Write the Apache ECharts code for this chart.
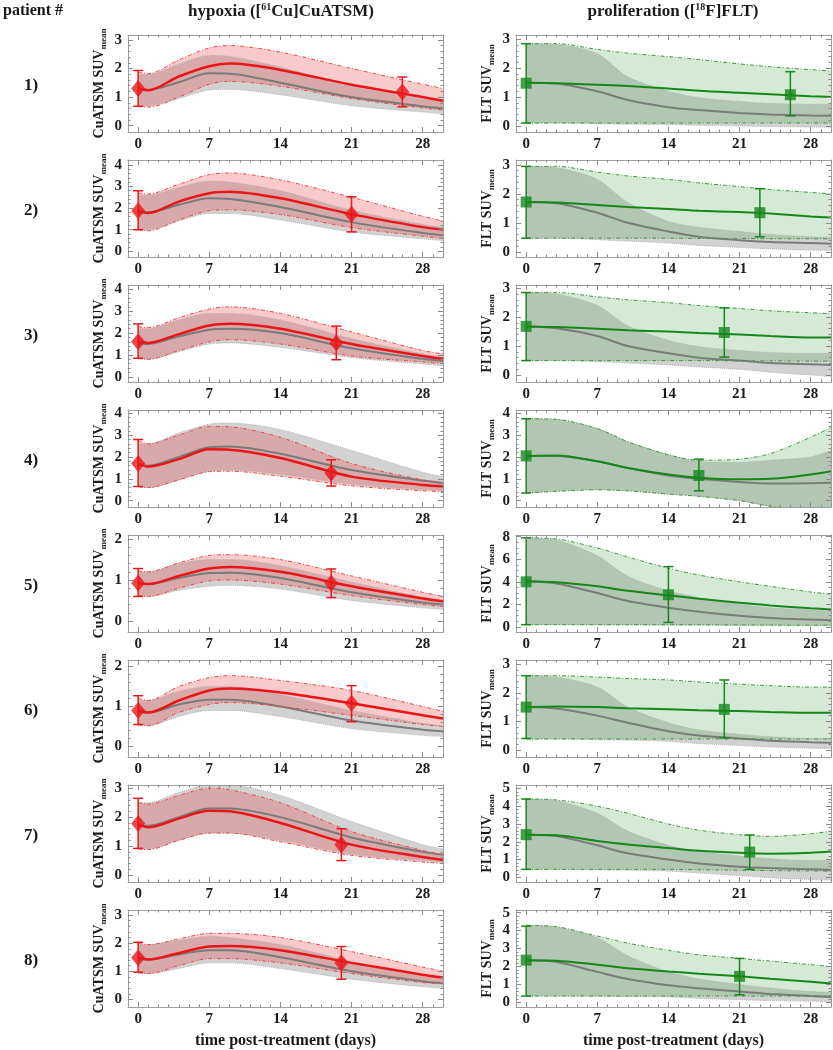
<!DOCTYPE html>
<html>
<head>
<meta charset="utf-8">
<script src="https://cdn.jsdelivr.net/npm/echarts@6/dist/echarts.min.js"></script>
<style>
html,body{margin:0;padding:0;background:#fff;}
#chart{width:833px;height:1050px;}
</style>
</head>
<body>
<div id="chart"></div>
<script>
// ---------------- DATA ----------------
const TH = [0, 1, 4, 7, 9, 14, 21, 28, 30];                 // hypoxia time grid (days)
const TP = [0, 3, 7, 10, 14, 17, 21, 24, 28, 30];           // proliferation time grid (days)
const X_TICKS = [0, 7, 14, 21, 28];
const PATIENTS = ['1)', '2)', '3)', '4)', '5)', '6)', '7)', '8)'];

const HYP_Y_TICKS = [[0,1,2,3],[0,1,2,3,4],[0,1,2,3,4],[0,1,2,3,4],[0,1,2],[0,1,2],[0,1,2,3],[0,1,2,3]];
const HYP_Y_MIN = [-0.22, -0.26, -0.24, -0.29, -0.27, -0.26, -0.24, -0.27];
const HYP_Y_MAX = [3.17, 4.22, 4.2, 4.15, 2.1, 2.16, 3.11, 3.18];
const PRO_Y_TICKS = [[0,1,2,3],[0,1,2,3],[0,1,2,3],[0,1,2,3,4],[0,2,4,6,8],[0,1,2,3],[0,1,2,3,4,5],[0,1,2,3,4,5]];
const PRO_Y_MIN = [-0.21, -0.18, -0.24, -0.29, -0.45, -0.25, -0.26, -0.26];
const PRO_Y_MAX = [3.15, 3.17, 3.11, 4.15, 8.15, 3.15, 5.19, 5.15];

// hypoxia ([61Cu]CuATSM), patient-specific (red) and population (gray)
const hypRedMid = [
  [1.3, 1.24, 1.72, 2.08, 2.17, 1.95, 1.43, 1.0, 0.87],
  [1.88, 1.77, 2.3, 2.68, 2.75, 2.45, 1.72, 1.12, 1.0],
  [1.6, 1.55, 1.95, 2.35, 2.43, 2.2, 1.5, 0.95, 0.82],
  [1.7, 1.56, 1.9, 2.35, 2.33, 1.95, 1.1, 0.72, 0.65],
  [0.93, 0.9, 1.1, 1.28, 1.32, 1.2, 0.85, 0.55, 0.48],
  [0.9, 0.85, 1.15, 1.4, 1.45, 1.35, 1.08, 0.78, 0.7],
  [1.75, 1.65, 1.95, 2.22, 2.2, 1.8, 1.05, 0.62, 0.52],
  [1.48, 1.42, 1.65, 1.88, 1.9, 1.75, 1.3, 0.88, 0.78]
];
const hypRedHi = [
  [1.87, 1.82, 2.3, 2.72, 2.8, 2.57, 2.0, 1.45, 1.3],
  [2.7, 2.65, 3.1, 3.55, 3.62, 3.3, 2.5, 1.62, 1.4],
  [2.3, 2.25, 2.7, 3.1, 3.2, 2.9, 2.05, 1.2, 1.05],
  [2.75, 2.6, 3.0, 3.4, 3.38, 2.9, 1.7, 0.95, 0.85],
  [1.22, 1.2, 1.42, 1.6, 1.62, 1.5, 1.1, 0.7, 0.6],
  [1.2, 1.15, 1.5, 1.72, 1.77, 1.65, 1.4, 1.0, 0.88],
  [2.5, 2.45, 2.75, 3.0, 2.95, 2.5, 1.5, 0.85, 0.7],
  [2.0, 1.95, 2.15, 2.35, 2.35, 2.2, 1.7, 1.15, 1.0]
];
const hypRedLo = [
  [0.67, 0.65, 1.0, 1.45, 1.55, 1.38, 0.95, 0.62, 0.55],
  [1.0, 0.95, 1.45, 1.88, 1.92, 1.7, 1.1, 0.7, 0.6],
  [0.85, 0.8, 1.2, 1.6, 1.7, 1.5, 0.95, 0.68, 0.6],
  [0.65, 0.6, 0.95, 1.33, 1.35, 1.12, 0.68, 0.45, 0.42],
  [0.62, 0.6, 0.8, 0.98, 1.0, 0.9, 0.62, 0.4, 0.35],
  [0.55, 0.52, 0.85, 1.05, 1.1, 1.0, 0.78, 0.55, 0.5],
  [0.9, 0.88, 1.2, 1.45, 1.45, 1.15, 0.68, 0.45, 0.4],
  [0.95, 0.92, 1.2, 1.45, 1.45, 1.3, 0.92, 0.6, 0.55]
];
const hypGrayMid = [
  [1.28, 1.25, 1.52, 1.83, 1.82, 1.5, 1.0, 0.68, 0.6],
  [1.8, 1.8, 2.15, 2.45, 2.42, 2.05, 1.35, 0.85, 0.75],
  [1.5, 1.5, 1.85, 2.15, 2.2, 2.0, 1.3, 0.82, 0.72],
  [1.65, 1.6, 2.0, 2.45, 2.48, 2.15, 1.4, 0.92, 0.8],
  [0.9, 0.9, 1.05, 1.17, 1.18, 1.05, 0.7, 0.45, 0.4],
  [0.85, 0.85, 1.05, 1.17, 1.17, 1.0, 0.65, 0.42, 0.38],
  [1.7, 1.7, 2.0, 2.3, 2.3, 2.0, 1.3, 0.8, 0.7],
  [1.42, 1.42, 1.6, 1.75, 1.75, 1.5, 1.0, 0.65, 0.58]
];
const hypGrayHi = [
  [1.8, 1.8, 2.15, 2.45, 2.42, 2.05, 1.38, 0.95, 0.85],
  [2.6, 2.6, 2.95, 3.25, 3.2, 2.8, 1.9, 1.25, 1.1],
  [2.2, 2.2, 2.6, 2.9, 2.9, 2.6, 1.75, 1.05, 0.9],
  [2.6, 2.6, 3.1, 3.5, 3.55, 3.25, 2.3, 1.3, 1.1],
  [1.2, 1.2, 1.4, 1.5, 1.5, 1.35, 0.95, 0.58, 0.5],
  [1.15, 1.15, 1.38, 1.5, 1.5, 1.3, 0.9, 0.58, 0.52],
  [2.5, 2.5, 2.85, 3.1, 3.1, 2.75, 1.85, 1.05, 0.9],
  [1.95, 1.95, 2.1, 2.25, 2.2, 1.95, 1.35, 0.85, 0.75]
];
const hypGrayLo = [
  [0.7, 0.7, 0.95, 1.25, 1.27, 1.08, 0.7, 0.48, 0.42],
  [1.0, 1.0, 1.4, 1.75, 1.75, 1.45, 0.9, 0.58, 0.5],
  [0.8, 0.8, 1.15, 1.5, 1.55, 1.35, 0.88, 0.58, 0.5],
  [0.6, 0.6, 0.95, 1.35, 1.4, 1.2, 0.75, 0.5, 0.45],
  [0.6, 0.6, 0.75, 0.85, 0.87, 0.78, 0.5, 0.32, 0.28],
  [0.52, 0.52, 0.75, 0.9, 0.9, 0.75, 0.45, 0.28, 0.25],
  [0.9, 0.9, 1.2, 1.45, 1.45, 1.2, 0.72, 0.5, 0.45],
  [0.92, 0.92, 1.1, 1.3, 1.3, 1.1, 0.72, 0.45, 0.4]
];
// measured points: [day, value, errLow, errHigh]
const hypPoints = [
  [[0, 1.3, 0.68, 1.93], [26, 1.18, 0.66, 1.7]],
  [[0, 1.88, 1.0, 2.8], [21, 1.72, 0.9, 2.52]],
  [[0, 1.6, 0.85, 2.42], [19.5, 1.55, 0.78, 2.32]],
  [[0, 1.7, 0.65, 2.8], [19, 1.27, 0.67, 1.87]],
  [[0, 0.93, 0.6, 1.28], [19, 0.92, 0.57, 1.27]],
  [[0, 0.9, 0.55, 1.27], [21, 1.08, 0.62, 1.52]],
  [[0, 1.78, 0.92, 2.65], [20, 1.05, 0.5, 1.6]],
  [[0, 1.48, 0.97, 2.03], [20, 1.3, 0.72, 1.88]]
];

// proliferation ([18F]FLT), patient-specific (green) and population (gray)
const proGreenMid = [
  [1.5, 1.48, 1.43, 1.38, 1.3, 1.22, 1.15, 1.1, 1.03, 1.0],
  [1.72, 1.7, 1.62, 1.55, 1.48, 1.42, 1.37, 1.32, 1.22, 1.18],
  [1.68, 1.66, 1.6, 1.55, 1.5, 1.45, 1.4, 1.35, 1.3, 1.3],
  [2.05, 2.07, 1.8, 1.5, 1.2, 1.05, 0.98, 1.0, 1.2, 1.35],
  [4.05, 3.95, 3.6, 3.2, 2.8, 2.5, 2.15, 1.9, 1.65, 1.55],
  [1.5, 1.52, 1.5, 1.46, 1.42, 1.39, 1.36, 1.33, 1.3, 1.3],
  [2.4, 2.37, 2.05, 1.85, 1.65, 1.5, 1.38, 1.33, 1.38, 1.45],
  [2.35, 2.32, 2.1, 1.9, 1.72, 1.6, 1.45, 1.32, 1.15, 1.05]
];
const proGreenHi = [
  [2.85, 2.85, 2.65, 2.52, 2.4, 2.3, 2.15, 2.05, 1.95, 1.9],
  [2.95, 2.95, 2.75, 2.62, 2.5, 2.38, 2.25, 2.15, 2.05, 2.0],
  [2.85, 2.85, 2.7, 2.6, 2.5, 2.4, 2.3, 2.22, 2.15, 2.12],
  [3.75, 3.72, 3.3, 2.7, 2.1, 1.85, 1.9, 2.15, 2.9, 3.35],
  [7.9, 7.8, 7.0, 6.2, 5.2, 4.6, 4.0, 3.6, 3.1, 2.9],
  [2.6, 2.6, 2.55, 2.5, 2.45, 2.38, 2.3, 2.25, 2.2, 2.2],
  [4.4, 4.35, 4.0, 3.6, 3.0, 2.65, 2.4, 2.3, 2.45, 2.6],
  [4.3, 4.22, 3.7, 3.3, 2.9, 2.65, 2.45, 2.3, 2.1, 2.0]
];
const proGreenLo = [
  [0.1, 0.1, 0.1, 0.1, 0.1, 0.1, 0.1, 0.1, 0.1, 0.1],
  [0.47, 0.47, 0.47, 0.47, 0.47, 0.46, 0.46, 0.45, 0.45, 0.45],
  [0.5, 0.5, 0.5, 0.5, 0.5, 0.5, 0.49, 0.49, 0.48, 0.48],
  [0.35, 0.43, 0.5, 0.45, 0.3, 0.2, 0.0, -0.25, -0.45, -0.55],
  [0.2, 0.2, 0.2, 0.2, 0.2, 0.2, 0.18, 0.17, 0.15, 0.15],
  [0.38, 0.38, 0.38, 0.38, 0.38, 0.38, 0.38, 0.38, 0.38, 0.38],
  [0.45, 0.45, 0.45, 0.45, 0.45, 0.43, 0.4, 0.38, 0.36, 0.35],
  [0.35, 0.35, 0.35, 0.35, 0.35, 0.35, 0.35, 0.35, 0.35, 0.35]
];
const proGrayMid = [
  [1.5, 1.47, 1.2, 0.9, 0.65, 0.55, 0.45, 0.4, 0.36, 0.35],
  [1.72, 1.68, 1.35, 1.0, 0.7, 0.52, 0.4, 0.34, 0.3, 0.28],
  [1.68, 1.62, 1.35, 1.0, 0.75, 0.6, 0.5, 0.42, 0.37, 0.35],
  [2.05, 2.05, 1.8, 1.5, 1.15, 1.0, 0.85, 0.78, 0.8, 0.82],
  [4.05, 3.85, 3.0, 2.3, 1.7, 1.35, 1.0, 0.8, 0.65, 0.6],
  [1.5, 1.45, 1.2, 0.95, 0.65, 0.5, 0.4, 0.32, 0.27, 0.25],
  [2.4, 2.32, 1.8, 1.35, 1.0, 0.78, 0.6, 0.52, 0.45, 0.42],
  [2.35, 2.25, 1.7, 1.3, 0.95, 0.78, 0.6, 0.47, 0.35, 0.3]
];
const proGrayHi = [
  [2.85, 2.82, 2.5, 1.7, 1.2, 0.98, 0.85, 0.78, 0.75, 0.75],
  [2.95, 2.9, 2.5, 1.7, 1.05, 0.85, 0.7, 0.6, 0.52, 0.5],
  [2.85, 2.8, 2.4, 1.7, 1.2, 0.98, 0.85, 0.78, 0.75, 0.75],
  [3.75, 3.72, 3.3, 2.7, 2.1, 1.8, 1.75, 1.85, 2.0, 2.3],
  [7.9, 7.7, 6.3, 4.5, 3.2, 2.6, 2.0, 1.7, 1.5, 1.4],
  [2.6, 2.55, 2.2, 1.5, 0.95, 0.7, 0.55, 0.46, 0.4, 0.4],
  [4.4, 4.3, 3.6, 2.6, 1.8, 1.45, 1.2, 1.05, 0.95, 0.95],
  [4.3, 4.2, 3.6, 2.6, 1.7, 1.3, 1.0, 0.8, 0.6, 0.55]
];
const proGrayLo = [
  [0.1, 0.1, 0.08, 0.06, 0.05, 0.02, 0.0, -0.02, -0.04, -0.05],
  [0.47, 0.47, 0.42, 0.37, 0.3, 0.22, 0.15, 0.1, 0.06, 0.05],
  [0.5, 0.5, 0.46, 0.42, 0.35, 0.28, 0.2, 0.1, 0.0, -0.05],
  [0.35, 0.43, 0.5, 0.45, 0.3, 0.2, 0.0, -0.25, -0.45, -0.55],
  [0.2, 0.2, 0.18, 0.17, 0.15, 0.14, 0.12, 0.11, 0.1, 0.1],
  [0.38, 0.38, 0.36, 0.34, 0.3, 0.22, 0.15, 0.1, 0.06, 0.05],
  [0.45, 0.45, 0.42, 0.4, 0.35, 0.25, 0.1, -0.02, -0.12, -0.15],
  [0.35, 0.35, 0.34, 0.32, 0.3, 0.22, 0.15, 0.1, 0.06, 0.05]
];
const proPoints = [
  [[0, 1.48, 0.1, 2.85], [26, 1.08, 0.35, 1.88]],
  [[0, 1.72, 0.47, 2.95], [23, 1.35, 0.52, 2.18]],
  [[0, 1.68, 0.5, 2.85], [19.5, 1.47, 0.62, 2.32]],
  [[0, 2.05, 0.35, 3.75], [17, 1.15, 0.45, 1.9]],
  [[0, 4.0, 0.2, 7.9], [14, 2.85, 0.4, 5.35]],
  [[0, 1.5, 0.4, 2.6], [19.5, 1.42, 0.42, 2.45]],
  [[0, 2.4, 0.45, 4.4], [22, 1.42, 0.45, 2.38]],
  [[0, 2.35, 0.35, 4.25], [21, 1.45, 0.42, 2.45]]
];

// ---------------- STYLE ----------------
const FONT = '"Liberation Serif", "Times New Roman", serif';
const FRAME = '#9e9e9e';
const TICKC = '#8a8a8a';
const RED = '#e8161b';
const GREEN = '#17861b';
const GRAY_LINE = '#7b7b7b';
const GRAY_FILL = '#d2d2d2';
const RED_FILL = 'rgba(232,60,60,0.27)';
const GREEN_FILL = 'rgba(60,160,60,0.22)';
const SM = 0.3;

const DAYS = [];
for (let d = 0; d <= 30; d++) DAYS.push(d);
function minorY(ticks) {
  const step = ticks[1] - ticks[0];
  const sub = step === 1 ? 0.2 : 0.5;
  const top = ticks[ticks.length - 1];
  const out = [];
  for (let v = 0; v <= top + 1e-9; v += sub) out.push(Math.round(v * 100) / 100);
  return out;
}

const option = {
  animation: false,
  backgroundColor: '#ffffff',
  grid: [], xAxis: [], yAxis: [], series: [], graphic: []
};

function makeErr(p, pts, color) {
  return {
    type: 'custom', xAxisIndex: 4 * p, yAxisIndex: 4 * p, z: 4, silent: true,
    data: pts,
    encode: { x: 0, y: [2, 3] },
    renderItem: function (params, api) {
      const x = api.value(0), lo = api.value(2), hi = api.value(3);
      const a = api.coord([x, lo]), b = api.coord([x, hi]);
      const w = 5;
      const st = { stroke: color, lineWidth: 1.5 };
      return {
        type: 'group', children: [
          { type: 'line', shape: { x1: a[0], y1: a[1], x2: b[0], y2: b[1] }, style: st },
          { type: 'line', shape: { x1: a[0] - w, y1: a[1], x2: a[0] + w, y2: a[1] }, style: st },
          { type: 'line', shape: { x1: b[0] - w, y1: b[1], x2: b[0] + w, y2: b[1] }, style: st }
        ]
      };
    }
  };
}

// band = stacked pair of line series; value column first so the y dimension is the stacked one
function bandSeries(p, T, lo, hi, stackId, edgeColor, edgeType, fill) {
  const common = { type: 'line', xAxisIndex: 4 * p, yAxisIndex: 4 * p, stack: stackId, stackStrategy: 'all',
    smooth: SM, symbol: 'none', silent: true, encode: { x: 1, y: 0 } };
  return [
    Object.assign({}, common, { data: T.map((t, i) => [lo[i], t]),
      lineStyle: { color: edgeColor, width: 1, type: edgeType } }),
    Object.assign({}, common, { data: T.map((t, i) => [+(hi[i] - lo[i]).toFixed(4), t]),
      areaStyle: { color: fill, opacity: 1 },
      lineStyle: { color: edgeColor, width: 1, type: edgeType } })
  ];
}

for (let r = 0; r < 8; r++) {
  for (let c = 0; c < 2; c++) {
    const p = r * 2 + c;
    const top = 35 + 125 * r;
    const left = c === 0 ? 128 : 516;
    const W = 315, H = 97;
    const yt = c === 0 ? HYP_Y_TICKS[r] : PRO_Y_TICKS[r];
    const ymin = c === 0 ? HYP_Y_MIN[r] : PRO_Y_MIN[r];
    const ymax = c === 0 ? HYP_Y_MAX[r] : PRO_Y_MAX[r];

    option.grid.push({ left: left, top: top, width: W, height: H, show: false, containLabel: false, outerBoundsMode: 'none' });
    option.grid.push({ left: left, top: top, width: W, height: H, show: false, containLabel: false, outerBoundsMode: 'none' });

    const lineOn = { show: true, onZero: false, lineStyle: { color: FRAME, width: 1 } };
    const lineOff = { show: false, onZero: false };
    const majT = (vals) => ({ show: true, inside: true, length: 5, customValues: vals, lineStyle: { color: TICKC, width: 1 } });
    const minT = (vals) => ({ show: true, inside: true, length: 2.5, customValues: vals, lineStyle: { color: TICKC, width: 1 } });
    const xb = { type: 'value', min: -1, max: 30, z: 10, splitLine: { show: false } };
    const yb = { type: 'value', min: ymin, max: ymax, z: 10, splitLine: { show: false } };

    const xMain = Object.assign({}, xb, {
      gridIndex: 2 * p, position: 'bottom', axisLine: lineOn, axisTick: majT(X_TICKS),
      axisLabel: { show: true, customValues: X_TICKS, fontFamily: FONT, fontWeight: 'bold', fontSize: 15, color: '#1a1a1a', margin: 5 }
    });
    if (r === 7) {
      xMain.name = 'time post-treatment (days)';
      xMain.nameLocation = 'middle';
      xMain.nameGap = 26;
      xMain.nameTextStyle = { fontFamily: FONT, fontWeight: 'bold', fontSize: 16, color: '#1a1a1a' };
    }
    option.xAxis.push(xMain);
    option.xAxis.push(Object.assign({}, xb, { gridIndex: 2 * p, position: 'top', axisLine: lineOn, axisTick: majT(X_TICKS), axisLabel: { show: false } }));
    option.xAxis.push(Object.assign({}, xb, { gridIndex: 2 * p + 1, position: 'bottom', axisLine: lineOff, axisTick: minT(DAYS), axisLabel: { show: false } }));
    option.xAxis.push(Object.assign({}, xb, { gridIndex: 2 * p + 1, position: 'top', axisLine: lineOff, axisTick: minT(DAYS), axisLabel: { show: false } }));

    const nm = c === 0 ? 'CuATSM SUV' : 'FLT SUV';
    option.yAxis.push(Object.assign({}, yb, {
      gridIndex: 2 * p, position: 'left', axisLine: lineOn, axisTick: majT(yt),
      axisLabel: { show: true, customValues: yt, fontFamily: FONT, fontWeight: 'bold', fontSize: 15, color: '#1a1a1a', margin: 6 },
      name: '{a|' + nm + '}{b|mean}', nameLocation: 'middle', nameGap: 20,
      nameTextStyle: {
        rich: {
          a: { fontFamily: FONT, fontWeight: 'bold', fontSize: 14, color: '#1a1a1a', lineHeight: 18, verticalAlign: 'middle' },
          b: { fontFamily: FONT, fontWeight: 'bold', fontSize: 9, color: '#1a1a1a', lineHeight: 9, verticalAlign: 'bottom' }
        }
      }
    }));
    option.yAxis.push(Object.assign({}, yb, { gridIndex: 2 * p, position: 'right', axisLine: lineOn, axisTick: majT(yt), axisLabel: { show: false } }));
    option.yAxis.push(Object.assign({}, yb, { gridIndex: 2 * p + 1, position: 'left', axisLine: lineOff, axisTick: minT(minorY(yt)), axisLabel: { show: false } }));
    option.yAxis.push(Object.assign({}, yb, { gridIndex: 2 * p + 1, position: 'right', axisLine: lineOff, axisTick: minT(minorY(yt)), axisLabel: { show: false } }));

    const T = c === 0 ? TH : TP;
    const gLo = c === 0 ? hypGrayLo[r] : proGrayLo[r];
    const gHi = c === 0 ? hypGrayHi[r] : proGrayHi[r];
    const gMid = c === 0 ? hypGrayMid[r] : proGrayMid[r];
    const cLo = c === 0 ? hypRedLo[r] : proGreenLo[r];
    const cHi = c === 0 ? hypRedHi[r] : proGreenHi[r];
    const cMid = c === 0 ? hypRedMid[r] : proGreenMid[r];
    const pts = c === 0 ? hypPoints[r] : proPoints[r];
    const col = c === 0 ? RED : GREEN;
    const edge = c === 0 ? '#ea4a4a' : '#3f9b3f';
    const fill = c === 0 ? RED_FILL : GREEN_FILL;

    bandSeries(p, T, gLo, gHi, 'g' + p, '#b4b4b4', 'dotted', GRAY_FILL).forEach(s => option.series.push(s));
    option.series.push({ type: 'line', xAxisIndex: 4 * p, yAxisIndex: 4 * p, smooth: SM, symbol: 'none', silent: true,
      data: T.map((t, i) => [t, gMid[i]]), lineStyle: { color: GRAY_LINE, width: 2 } });
    bandSeries(p, T, cLo, cHi, 'c' + p, edge, [4, 2, 1, 2], fill).forEach(s => option.series.push(s));
    option.series.push({ type: 'line', xAxisIndex: 4 * p, yAxisIndex: 4 * p, smooth: SM, symbol: 'none', silent: true,
      data: T.map((t, i) => [t, cMid[i]]), lineStyle: { color: col, width: c === 0 ? 2.5 : 2 } });
    option.series.push(makeErr(p, pts, col));
    option.series.push({ type: 'scatter', xAxisIndex: 4 * p, yAxisIndex: 4 * p, z: 5, silent: true,
      symbol: c === 0 ? 'diamond' : 'rect', symbolSize: c === 0 ? [14, 17] : 11,
      itemStyle: { color: col }, data: pts.map(d => [d[0], d[1]]) });
  }
  option.graphic.push({ type: 'text', x: 31, y: 86 + 125 * r,
    style: { text: PATIENTS[r], fontFamily: FONT, fontWeight: 'bold', fontSize: 17, fill: '#1a1a1a', textAlign: 'center', textVerticalAlign: 'middle' } });
}

const supStyle = { fontFamily: FONT, fontWeight: 'bold', fontSize: 10, fill: '#1a1a1a', verticalAlign: 'top', lineHeight: 10 };
option.graphic.push({ type: 'text', x: 33, y: 11,
  style: { text: 'patient #', fontFamily: FONT, fontWeight: 'bold', fontSize: 16, fill: '#1a1a1a', textAlign: 'center', textVerticalAlign: 'middle' } });
option.graphic.push({ type: 'text', x: 281, y: 12,
  style: { text: 'hypoxia ([{sup|61}Cu]CuATSM)', fontFamily: FONT, fontWeight: 'bold', fontSize: 17, lineHeight: 20, fill: '#1a1a1a',
    textAlign: 'center', textVerticalAlign: 'middle', rich: { sup: supStyle } } });
option.graphic.push({ type: 'text', x: 673, y: 12,
  style: { text: 'proliferation ([{sup|18}F]FLT)', fontFamily: FONT, fontWeight: 'bold', fontSize: 17, lineHeight: 20, fill: '#1a1a1a',
    textAlign: 'center', textVerticalAlign: 'middle', rich: { sup: supStyle } } });

const chart = echarts.init(document.getElementById('chart'), null, { renderer: 'canvas' });
chart.setOption(option);
</script>
</body>
</html>
